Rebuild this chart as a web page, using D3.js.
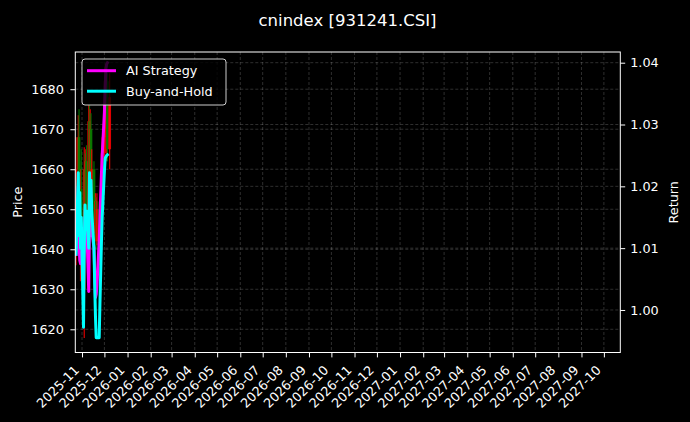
<!DOCTYPE html>
<html>
<head>
<meta charset="utf-8">
<script src="https://cdn.jsdelivr.net/npm/d3@7/dist/d3.min.js"></script>
<style>
  body { margin: 0; background: #000; }
  svg { display: block; font-family: "DejaVu Sans", sans-serif; }
</style>
</head>
<body>
<div id="chart"></div>
<script>
// trading days shown on the chart
var dates = ["2025-10-24", "2025-10-27", "2025-10-28", "2025-10-29", "2025-10-30", "2025-10-31",
    "2025-11-03", "2025-11-04", "2025-11-05", "2025-11-06", "2025-11-07",
    "2025-11-10", "2025-11-11", "2025-11-12", "2025-11-13", "2025-11-14",
    "2025-11-17", "2025-11-18", "2025-11-19", "2025-11-20", "2025-11-21",
    "2025-11-24", "2025-11-25", "2025-11-26", "2025-11-27", "2025-11-28",
    "2025-12-01", "2025-12-02", "2025-12-03", "2025-12-04", "2025-12-05", "2025-12-08"]

// candles (price, left axis)
var openP  = [1640, 1660, 1668, 1655, 1645, 1655, 1642, 1630, 1660, 1650, 1662, 1645, 1672, 1655, 1670, 1652,
    1660, 1650, 1644, 1652, 1642, 1650, 1641, 1646, 1652, 1656, 1664, 1676, 1668, 1670, 1682, 1665]
var highP  = [1668, 1673.5, 1675, 1662, 1660, 1665, 1650, 1665.5, 1664, 1665, 1666, 1676, 1676, 1675, 1674, 1665,
    1662, 1654, 1654, 1653, 1654, 1652, 1650, 1655, 1660, 1668, 1678, 1686, 1685.9, 1684, 1684, 1684]
var lowP   = [1636, 1645, 1650, 1640, 1632, 1640, 1625, 1617.8, 1645, 1645, 1640, 1642, 1650, 1650, 1648, 1645,
    1645, 1640, 1642, 1640, 1641, 1638, 1636, 1644, 1648, 1650, 1660, 1670, 1664, 1662, 1662, 1660]
var closeP = [1660, 1668, 1655, 1645, 1655, 1642, 1630, 1660, 1650, 1662, 1645, 1672, 1655, 1670, 1652, 1660,
    1650, 1644, 1652, 1642, 1650, 1641, 1646, 1652, 1656, 1664, 1676, 1682, 1684, 1682, 1665, 1678]

// returns (right axis), one value per day up to 2025-12-05
var aiStrategy = [1.0090, 1.0200, 1.0110, 1.0080, 1.0075, 1.0090, 1.0080, 1.0100, 1.0150, 1.0110, 1.0150,
    1.0030, 1.0140, 1.0120, 1.0150, 1.0130, 1.0100, 1.0060, 1.0020, 1.0025, 1.0040,
    1.0112, 1.0150, 1.0185, 1.0220, 1.0250, 1.0320, 1.0360, 1.0390, 1.0398, 1.0400]
var buyHold = [1.0090, 1.0222, 1.0120, 1.0190, 1.0100, 1.0150, 0.9972, 1.0100, 1.0170, 1.0130, 1.0160,
    1.0100, 1.0222, 1.0180, 1.0210, 1.0160, 1.0100, 1.0040, 0.9990, 0.9955, 0.9955,
    0.9955, 1.0010, 1.0060, 1.0110, 1.0150, 1.0225, 1.0245, 1.0248, 1.0250, 1.0251]

var monthTicks = ["2025-11", "2025-12", "2026-01", "2026-02", "2026-03", "2026-04", "2026-05", "2026-06",
    "2026-07", "2026-08", "2026-09", "2026-10", "2026-11", "2026-12", "2027-01", "2027-02",
    "2027-03", "2027-04", "2027-05", "2027-06", "2027-07", "2027-08", "2027-09", "2027-10"]
var priceTicks = [1620, 1630, 1640, 1650, 1660, 1670, 1680]
var returnTicks = [1.00, 1.01, 1.02, 1.03, 1.04]

var seriesNames = ["AI Strategy", "Buy-and-Hold"]
var seriesColors = ["#ff00ff", "#00ffff"]

drawChart()

function drawChart() {
    var W = 690, H = 422
    var margin = { top: 52, right: 69.7, bottom: 69.5, left: 75.3 },
        width = W - margin.left - margin.right,
        height = H - margin.top - margin.bottom

    var parse = d3.utcParse("%Y-%m-%d")
    var parseMonth = d3.utcParse("%Y-%m")
    var fmtMonth = d3.utcFormat("%Y-%m")

    var rows = dates.map(function (d, i) {
        return { date: parse(d), o: openP[i], h: highP[i], l: lowP[i], c: closeP[i], ai: aiStrategy[i], bh: buyHold[i] }
    })

    var root = d3.select("#chart").append("svg")
        .attr("width", W).attr("height", H)
        .style("background", "#000")

    // title
    root.append("text")
        .attr("x", 347.5).attr("y", 25.5)
        .attr("text-anchor", "middle")
        .attr("fill", "#fff")
        .style("font-size", "16.5px")
        .text("cnindex [931241.CSI]")

    var svg = root.append("g")
        .attr("transform", "translate(" + margin.left + "," + margin.top + ")")

    var x = d3.scaleUtc()
        .domain([Date.UTC(2025, 9, 23), Date.UTC(2027, 9, 23)])
        .range([0, width])
    var yPrice = d3.scaleLinear().domain([1614.2, 1689.3]).range([height, 0])
    var yRet = d3.scaleLinear().domain([0.99312, 1.04173]).range([height, 0])

    var monthDates = monthTicks.map(parseMonth)

    // grid
    var grid = svg.append("g")
        .attr("stroke", "#fff").attr("stroke-opacity", 0.3)
        .attr("stroke-width", 0.6).attr("stroke-dasharray", "3,2")
    grid.selectAll(".gx").data(monthDates).enter().append("line")
        .attr("x1", function (d) { return x(d) }).attr("x2", function (d) { return x(d) })
        .attr("y1", 0).attr("y2", height)
    grid.selectAll(".gp").data(priceTicks).enter().append("line")
        .attr("x1", 0).attr("x2", width)
        .attr("y1", function (d) { return yPrice(d) }).attr("y2", function (d) { return yPrice(d) })
    grid.selectAll(".gr").data(returnTicks).enter().append("line")
        .attr("x1", 0).attr("x2", width)
        .attr("y1", function (d) { return yRet(d) }).attr("y2", function (d) { return yRet(d) })

    var plot = svg.append("g")
    plot.append("clipPath").attr("id", "clip")
        .append("rect").attr("width", width).attr("height", height)
    plot.attr("clip-path", "url(#clip)")

    // candles
    var candle = plot.selectAll(".candle").data(rows).enter().append("g")
    candle.append("line")
        .attr("x1", function (d) { return x(d.date) }).attr("x2", function (d) { return x(d.date) })
        .attr("y1", function (d) { return yPrice(d.h) }).attr("y2", function (d) { return yPrice(d.l) })
        .attr("stroke", function (d) { return d.c >= d.o ? "#ff0000" : "#008000" })
        .attr("stroke-width", 1.2).attr("stroke-opacity", 0.85)
    candle.append("rect")
        .attr("x", function (d) { return x(d.date) - 1.4 })
        .attr("width", 2.8)
        .attr("y", function (d) { return yPrice(Math.max(d.o, d.c)) })
        .attr("height", function (d) { return Math.max(0.8, Math.abs(yPrice(d.o) - yPrice(d.c))) })
        .attr("fill", function (d) { return d.c >= d.o ? "#ff0000" : "#008000" })
        .attr("fill-opacity", 0.85)

    // return lines
    var keys = ["ai", "bh"]
    keys.forEach(function (k, i) {
        var line = d3.line()
            .defined(function (d) { return d[k] != null })
            .x(function (d) { return x(d.date) })
            .y(function (d) { return yRet(d[k]) })
        plot.append("path")
            .datum(rows)
            .attr("d", line)
            .attr("fill", "none")
            .attr("stroke", seriesColors[i])
            .attr("stroke-width", 3)
            .attr("stroke-linejoin", "round")
            .attr("stroke-linecap", "square")
    })

    // axes
    var tickLen = 4.9
    var xAxis = svg.append("g")
        .attr("transform", "translate(0," + height + ")")
        .call(d3.axisBottom(x).tickValues(monthDates).tickSize(tickLen).tickFormat(""))
    xAxis.select(".domain").remove()
    xAxis.selectAll("line").attr("stroke", "#fff")
    svg.append("g").selectAll("text").data(monthDates).enter().append("text")
        .attr("transform", function (d) {
            return "translate(" + (x(d) - 5.0) + "," + (height + 15.5) + ") rotate(-45)"
        })
        .attr("text-anchor", "end")
        .attr("dy", "0.32em")
        .attr("fill", "#fff")
        .style("font-size", "12.8px")
        .text(function (d) { return fmtMonth(d) })

    var yAxisL = svg.append("g")
        .call(d3.axisLeft(yPrice).tickValues(priceTicks).tickSize(tickLen).tickPadding(6.5).tickFormat(d3.format("d")))
    yAxisL.select(".domain").remove()
    yAxisL.selectAll("line").attr("stroke", "#fff")
    yAxisL.selectAll("text").attr("fill", "#fff").style("font-size", "12.8px")
        .style("font-family", "DejaVu Sans")

    var yAxisR = svg.append("g")
        .attr("transform", "translate(" + width + ",0)")
        .call(d3.axisRight(yRet).tickValues(returnTicks).tickSize(tickLen).tickPadding(5).tickFormat(d3.format(".2f")))
    yAxisR.select(".domain").remove()
    yAxisR.selectAll("line").attr("stroke", "#fff")
    yAxisR.selectAll("text").attr("fill", "#fff").style("font-size", "12.8px")
        .style("font-family", "DejaVu Sans")

    // spines
    svg.append("rect")
        .attr("width", width).attr("height", height)
        .attr("fill", "none").attr("stroke", "#fff").attr("stroke-width", 1)

    // axis labels
    root.append("text")
        .attr("transform", "translate(21.5," + (margin.top + height / 2) + ") rotate(-90)")
        .attr("text-anchor", "middle").attr("fill", "#fff")
        .style("font-size", "12.8px").text("Price")
    root.append("text")
        .attr("transform", "translate(678," + (margin.top + height / 2) + ") rotate(-90)")
        .attr("text-anchor", "middle").attr("fill", "#fff")
        .style("font-size", "12.8px").text("Return")

    // legend
    var lg = svg.append("g").attr("transform", "translate(" + (82 - margin.left) + "," + (59 - margin.top) + ")")
    lg.append("rect")
        .attr("width", 144).attr("height", 46).attr("rx", 3)
        .attr("fill", "#000").attr("fill-opacity", 0.8)
        .attr("stroke", "#fff").attr("stroke-opacity", 0.8)
    seriesNames.forEach(function (name, i) {
        var yy = 11.7 + i * 20.5
        lg.append("line")
            .attr("x1", 5).attr("x2", 34).attr("y1", yy).attr("y2", yy)
            .attr("stroke", seriesColors[i]).attr("stroke-width", 3)
        lg.append("text")
            .attr("x", 44).attr("y", yy).attr("dy", "0.35em")
            .attr("fill", "#fff").style("font-size", "12.8px")
            .text(name)
    })
}
</script>
</body>
</html>
